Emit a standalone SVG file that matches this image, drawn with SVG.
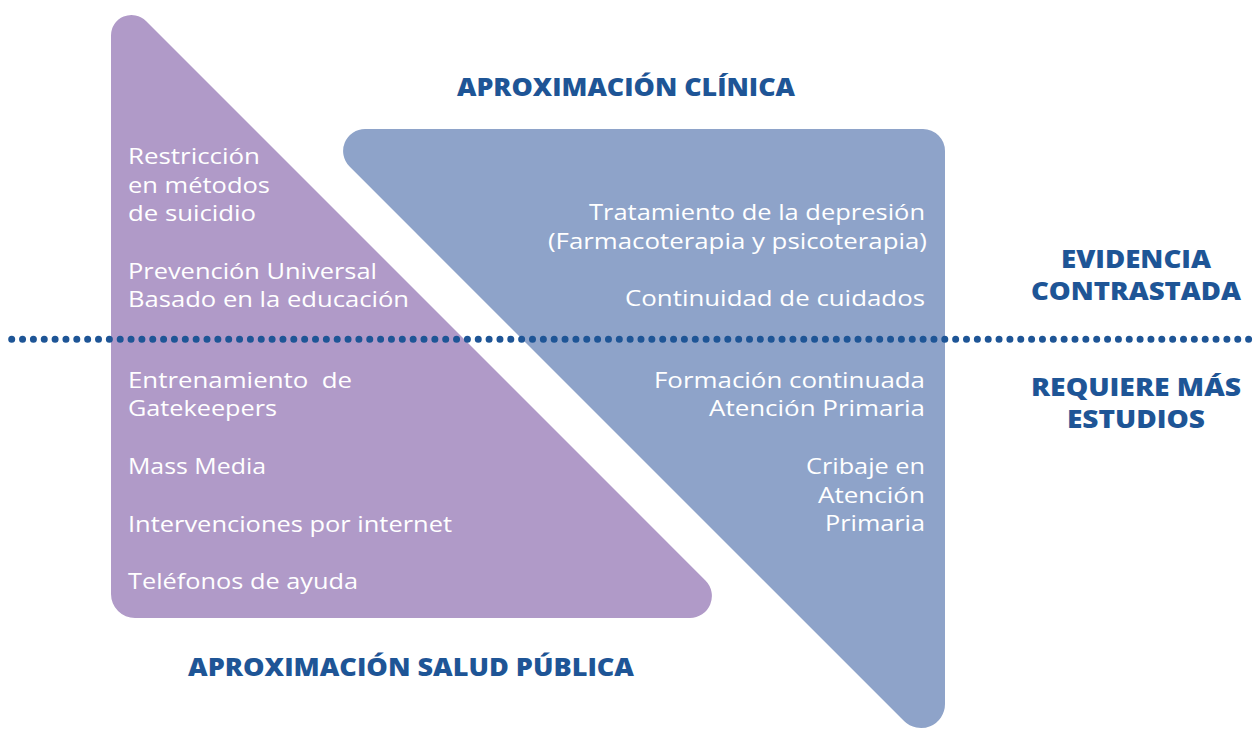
<svg xmlns="http://www.w3.org/2000/svg" width="1255" height="729" viewBox="0 0 1255 729">
<style>
.body{font-family:"Open Sans","Liberation Sans",sans-serif;font-size:21px;font-weight:500;fill:#ffffff;}
.head{font-family:"Open Sans","Liberation Sans",sans-serif;font-size:24px;font-weight:800;fill:#1e5596;}
</style>
<rect width="1255" height="729" fill="#ffffff"/>
<g id="salud-publica">
<path d="M111,35.5 L111,594 A24,24 0 0 0 135,618 L689.9,618 A22,22 0 0 0 705.45,580.45 L146,21 A20.5,20.5 0 0 0 111,35.5 Z" fill="#b09ac8"/>
<text class="body" x="128" y="164" textLength="132" lengthAdjust="spacingAndGlyphs">Restricción</text>
<text class="body" x="128" y="193" textLength="142" lengthAdjust="spacingAndGlyphs">en métodos</text>
<text class="body" x="128" y="221" textLength="128" lengthAdjust="spacingAndGlyphs">de suicidio</text>
<text class="body" x="128" y="279" textLength="249" lengthAdjust="spacingAndGlyphs">Prevención Universal</text>
<text class="body" x="128" y="307" textLength="281" lengthAdjust="spacingAndGlyphs">Basado en la educación</text>
<text class="body" x="128" y="388" textLength="224" lengthAdjust="spacingAndGlyphs" style="white-space:pre">Entrenamiento  de</text>
<text class="body" x="128" y="416" textLength="149" lengthAdjust="spacingAndGlyphs">Gatekeepers</text>
<text class="body" x="128" y="474" textLength="138" lengthAdjust="spacingAndGlyphs">Mass Media</text>
<text class="body" x="128" y="532" textLength="324" lengthAdjust="spacingAndGlyphs">Intervenciones por internet</text>
<text class="body" x="128" y="589" textLength="230" lengthAdjust="spacingAndGlyphs">Teléfonos de ayuda</text>
</g>
<g id="clinica">
<path d="M365.1,129 L923,129 A22,22 0 0 1 945,151 L945,704.1 A24,24 0 0 1 904.03,721.03 L349.55,166.55 A22,22 0 0 1 365.1,129 Z" fill="#8ea3c9"/>
<text class="body" x="589" y="220" textLength="336" lengthAdjust="spacingAndGlyphs">Tratamiento de la depresión</text>
<text class="body" x="548" y="249" textLength="379" lengthAdjust="spacingAndGlyphs">(Farmacoterapia y psicoterapia)</text>
<text class="body" x="625" y="306" textLength="300" lengthAdjust="spacingAndGlyphs">Continuidad de cuidados</text>
<text class="body" x="654" y="388" textLength="271" lengthAdjust="spacingAndGlyphs">Formación continuada</text>
<text class="body" x="709" y="416" textLength="216" lengthAdjust="spacingAndGlyphs">Atención Primaria</text>
<text class="body" x="806" y="474" textLength="119" lengthAdjust="spacingAndGlyphs">Cribaje en</text>
<text class="body" x="818" y="503" textLength="107" lengthAdjust="spacingAndGlyphs">Atención</text>
<text class="body" x="825" y="531" textLength="100" lengthAdjust="spacingAndGlyphs">Primaria</text>
</g>
<g id="divisor">
<line x1="11.7" y1="339.3" x2="1249.5" y2="339.3" stroke="#1e5596" stroke-width="7" stroke-linecap="round" stroke-dasharray="0 10.85"/>
</g>
<g id="titulos">
<text class="head" x="457" y="96" textLength="338" lengthAdjust="spacingAndGlyphs">APROXIMACIÓN CLÍNICA</text>
<text class="head" x="188" y="676" textLength="446" lengthAdjust="spacingAndGlyphs">APROXIMACIÓN SALUD PÚBLICA</text>
<text class="head" x="1061" y="268" textLength="150" lengthAdjust="spacingAndGlyphs">EVIDENCIA</text>
<text class="head" x="1031" y="300" textLength="210" lengthAdjust="spacingAndGlyphs">CONTRASTADA</text>
<text class="head" x="1031" y="396" textLength="210" lengthAdjust="spacingAndGlyphs">REQUIERE MÁS</text>
<text class="head" x="1067" y="428" textLength="138" lengthAdjust="spacingAndGlyphs">ESTUDIOS</text>
</g>
</svg>
